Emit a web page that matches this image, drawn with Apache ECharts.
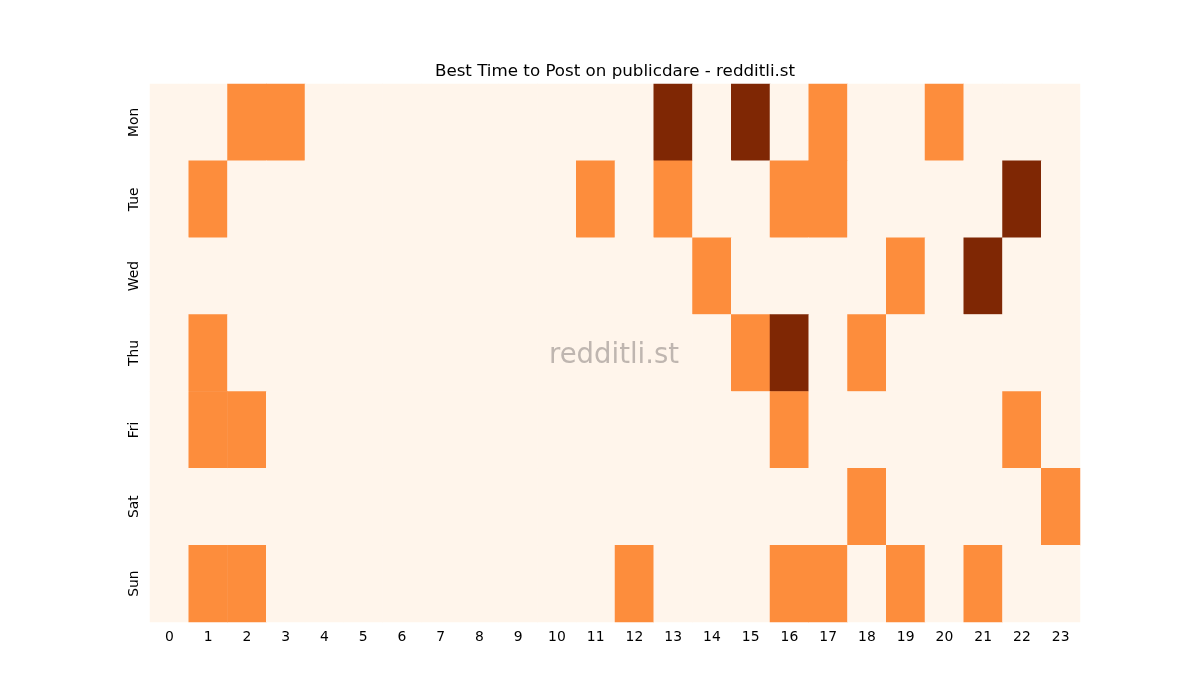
<!DOCTYPE html>
<html>
<head>
<meta charset="utf-8">
<script src="https://cdn.jsdelivr.net/npm/echarts@6/dist/echarts.min.js"></script>
<style>
	html, body { margin: 0; padding: 0; background: #fff; }
	#chart { width: 1200px; height: 700px; }
</style>
</head>
<body>
<div id="chart"></div>
<script>
// hours of day
var hours = ["0", "1", "2", "3", "4", "5", "6", "7", "8", "9", "10", "11",
	"12", "13", "14", "15", "16", "17", "18", "19", "20", "21", "22", "23"];
var days = ["Mon", "Tue", "Wed", "Thu", "Fri", "Sat", "Sun"];

// one row per day, one value per hour (0 none, 1 good, 2 best)
var mon = [0,0,1,1,0,0,0,0,0,0,0,0,0,2,0,2,0,1,0,0,1,0,0,0];
var tue = [0,1,0,0,0,0,0,0,0,0,0,1,0,1,0,0,1,1,0,0,0,0,2,0];
var wed = [0,0,0,0,0,0,0,0,0,0,0,0,0,0,1,0,0,0,0,1,0,2,0,0];
var thu = [0,1,0,0,0,0,0,0,0,0,0,0,0,0,0,1,2,0,1,0,0,0,0,0];
var fri = [0,1,1,0,0,0,0,0,0,0,0,0,0,0,0,0,1,0,0,0,0,0,1,0];
var sat = [0,0,0,0,0,0,0,0,0,0,0,0,0,0,0,0,0,0,1,0,0,0,0,1];
var sun = [0,1,1,0,0,0,0,0,0,0,0,0,1,0,0,0,1,1,0,1,0,1,0,0];

var rows = [mon, tue, wed, thu, fri, sat, sun];
var heat_data = [];
rows.forEach(function (row, d) {
	row.forEach(function (v, h) {
		heat_data.push([h, d, v]);
	});
});

var font = "DejaVu Sans, sans-serif";

var chart = echarts.init(document.getElementById("chart"));
chart.setOption({
	animation: false,
	title: {
		text: "Best Time to Post on publicdare - redditli.st",
		// centred over the plot area, not the page
		left: 610,
		textAlign: "center",
		top: 58,
		textStyle: {
			fontFamily: font,
			fontSize: 16.7,
			fontWeight: "normal",
			color: "#000"
		}
	},
	grid: {
		left: 150,
		right: 120,
		top: 84,
		bottom: 78
	},
	xAxis: {
		type: "category",
		data: hours,
		axisLine: { show: false },
		axisTick: {
			alignWithLabel: true,
			length: 4,
			lineStyle: { color: "#000" }
		},
		axisLabel: {
			fontFamily: font,
			fontSize: 13.9,
			color: "#000",
			margin: 8
		},
		splitLine: { show: false }
	},
	yAxis: {
		type: "category",
		data: days,
		inverse: true,
		axisLine: { show: false },
		axisTick: {
			alignWithLabel: true,
			length: 4,
			lineStyle: { color: "#000" }
		},
		axisLabel: {
			fontFamily: font,
			fontSize: 13.9,
			color: "#000",
			rotate: 90,
			margin: 9
		},
		splitLine: { show: false }
	},
	visualMap: {
		show: false,
		type: "piecewise",
		dimension: 2,
		pieces: [
			{ value: 0, color: "#fff5eb" },
			{ value: 1, color: "#fd8d3c" },
			{ value: 2, color: "#7f2704" }
		]
	},
	graphic: [{
		type: "text",
		left: 549,
		top: 342,
		z: 100,
		style: {
			text: "redditli.st",
			fontFamily: font,
			fontSize: 27.5,
			fill: "#bfb6b0"
		}
	}],
	series: [{
		type: "heatmap",
		data: heat_data,
		itemStyle: { borderWidth: 0 },
		emphasis: { disabled: true }
	}]
});
</script>
</body>
</html>
